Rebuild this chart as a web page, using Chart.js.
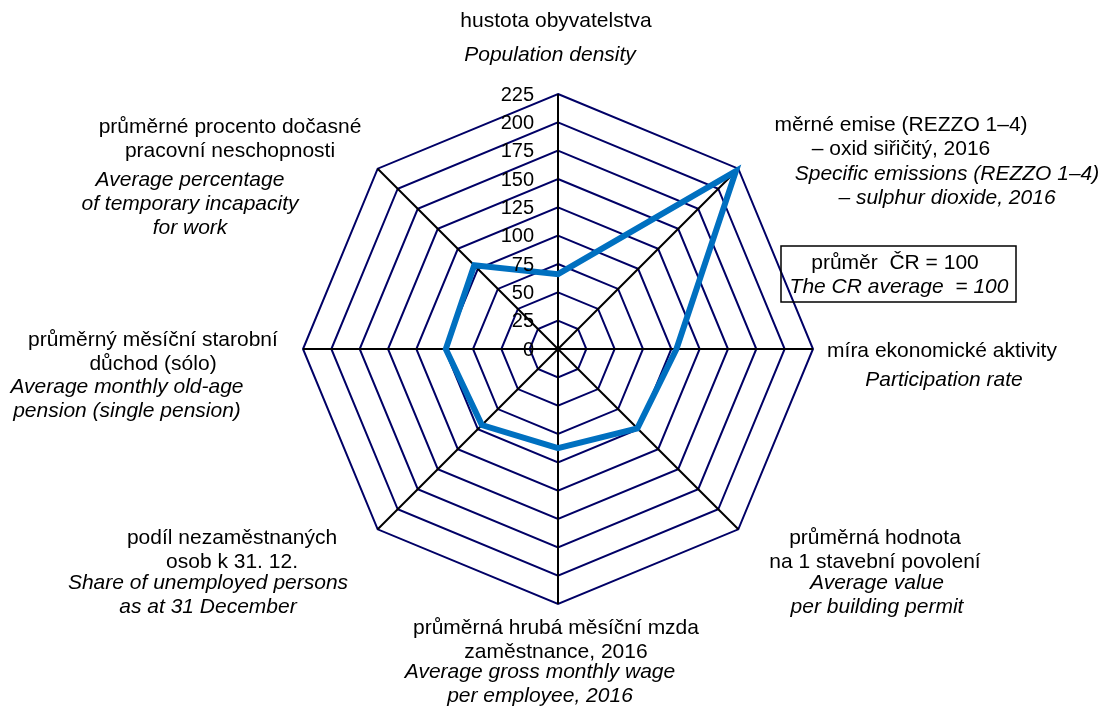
<!DOCTYPE html>
<html lang="cs">
<head>
<meta charset="UTF-8" />
<title>Radar</title>
<script src="https://cdn.jsdelivr.net/npm/chart.js@4.4.0/dist/chart.umd.min.js"></script>
<style>
  html, body { margin: 0; padding: 0; background: #fff; }
  #wrap { width: 1108px; height: 708px; }
</style>
</head>
<body>
<div id="wrap"><canvas id="myChart" width="1108" height="708"></canvas></div>
<script>
// axes, clockwise from the top
const axisCz = [
  ['hustota obyvatelstva'],
  ['měrné emise (REZZO 1–4)', '– oxid siřičitý, 2016'],
  ['míra ekonomické aktivity'],
  ['průměrná hodnota', 'na 1 stavební povolení'],
  ['průměrná hrubá měsíční mzda', 'zaměstnance, 2016'],
  ['podíl nezaměstnaných', 'osob k 31. 12.'],
  ['průměrný měsíční starobní', 'důchod (sólo)'],
  ['průměrné procento dočasné', 'pracovní neschopnosti']
];
const axisEn = [
  ['Population density'],
  ['Specific emissions (REZZO 1–4)', '– sulphur dioxide, 2016'],
  ['Participation rate'],
  ['Average value', 'per building permit'],
  ['Average gross monthly wage', 'per employee, 2016'],
  ['Share of unemployed persons', 'as at 31 December'],
  ['Average monthly old-age', 'pension (single pension)'],
  ['Average percentage', 'of temporary incapacity', 'for work']
];
const values = [66, 222, 104.5, 99, 87.5, 95, 99, 104.5];
const tickValues = [0, 25, 50, 75, 100, 125, 150, 175, 200, 225];
const legendLines = ['průměr  ČR = 100', 'The CR average  = 100'];

// where each label block sits, relative to the radar centre: [czX, czY, enX, enY]
const labelSpots = [
  [-2, -328, -8, -294],
  [343, -224, 389, -175],
  [384, 2, 386, 31],
  [317, 189, 319, 234],
  [-2, 279, -18, 323],
  [-326, 189, -350, 234],
  [-405, -9, -431, 38],
  [-328, -222, -368, -169]
];
const lineH = 24;
const FONT = '"Liberation Sans", Arial, sans-serif';

const labelPlugin = {
  id: 'labelPlugin',
  afterDraw(chart) {
    const ctx = chart.ctx;
    const s = chart.scales.r;
    const cx = s.xCenter, cy = s.yCenter;
    ctx.save();
    ctx.fillStyle = '#000';
    ctx.textBaseline = 'middle';

    // tick labels left of the vertical axis
    ctx.font = '20px ' + FONT;
    ctx.textAlign = 'right';
    tickValues.forEach(v => {
      ctx.fillText(String(v), cx - 24, cy - s.getDistanceFromCenterForValue(v) + 1);
    });

    // axis labels
    ctx.textAlign = 'center';
    axisCz.forEach((lines, i) => {
      const p = labelSpots[i];
      ctx.font = '21px ' + FONT;
      lines.forEach((t, k) => ctx.fillText(t, cx + p[0], cy + p[1] + k * lineH));
      ctx.font = 'italic 21px ' + FONT;
      axisEn[i].forEach((t, k) => ctx.fillText(t, cx + p[2], cy + p[3] + k * lineH));
    });

    // note box
    ctx.strokeStyle = '#000';
    ctx.lineWidth = 1.5;
    ctx.strokeRect(cx + 223, cy - 103, 235, 56);
    ctx.font = '21px ' + FONT;
    ctx.fillText(legendLines[0], cx + 337, cy - 86);
    ctx.font = 'italic 21px ' + FONT;
    ctx.fillText(legendLines[1], cx + 341, cy - 62);
    ctx.restore();
  }
};

const ctx = document.getElementById('myChart').getContext('2d');
new Chart(ctx, {
  type: 'radar',
  data: {
    labels: axisCz.map(l => l.join(' ')),
    datasets: [{
      data: values,
      borderColor: '#0070C0',
      borderWidth: 6,
      fill: false,
      pointRadius: 0,
      pointHoverRadius: 0,
      tension: 0
    }]
  },
  options: {
    responsive: false,
    animation: false,
    layout: { padding: { top: 94, bottom: 104, left: 303, right: 295 } },
    plugins: { legend: { display: false }, tooltip: { enabled: false } },
    scales: {
      r: {
        min: 0,
        max: 225,
        ticks: { stepSize: 25, display: false },
        pointLabels: { display: false },
        grid: { circular: false, color: '#000066', lineWidth: 2 },
        angleLines: { color: '#000', lineWidth: 2 }
      }
    }
  },
  plugins: [labelPlugin]
});
</script>
</body>
</html>
